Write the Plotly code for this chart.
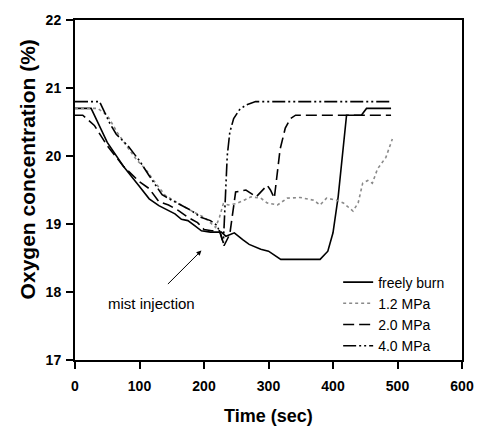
import plotly.graph_objects as go

# ---- data ----
t_free = [0, 25, 50, 75, 100, 115, 130, 145, 155, 165, 175, 185, 196, 210, 227, 234, 247, 260, 270, 288, 300, 319, 350, 380, 392, 400, 408, 416, 421, 444, 452, 490]
o_free = [20.7, 20.7, 20.2, 19.85, 19.55, 19.37, 19.27, 19.2, 19.15, 19.07, 19.05, 18.98, 18.9, 18.88, 18.88, 18.82, 18.87, 18.77, 18.7, 18.63, 18.6, 18.48, 18.48, 18.48, 18.6, 18.87, 19.4, 20.15, 20.6, 20.6, 20.7, 20.7]

t_12 = [0, 35, 50, 66, 82, 95, 110, 125, 140, 155, 170, 185, 200, 212, 218, 224, 230, 238, 250, 262, 273, 288, 298, 314, 329, 349, 370, 380, 390, 406, 416, 431, 439, 446, 454, 461, 469, 482, 492]
o_12 = [20.7, 20.7, 20.6, 20.34, 20.12, 19.95, 19.8, 19.6, 19.42, 19.33, 19.25, 19.17, 19.1, 19.0, 18.95, 19.1, 19.3, 19.28, 19.3, 19.35, 19.4, 19.38, 19.31, 19.28, 19.38, 19.39, 19.35, 19.28, 19.38, 19.35, 19.31, 19.19, 19.31, 19.6, 19.64, 19.6, 19.81, 19.98, 20.25]

t_20 = [0, 12, 30, 50, 75, 100, 115, 130, 145, 160, 175, 190, 200, 212, 224, 231, 240, 249, 265, 281, 298, 303, 309, 318, 326, 334, 342, 490]
o_20 = [20.6, 20.6, 20.45, 20.15, 19.85, 19.62, 19.52, 19.33, 19.28, 19.2, 19.1, 19.02, 18.92, 18.9, 18.9, 18.68, 18.85, 19.47, 19.5, 19.4, 19.57, 19.5, 19.38, 20.1, 20.41, 20.55, 20.6, 20.6]

t_40 = [0, 38, 54, 64, 82, 100, 115, 135, 150, 165, 180, 195, 210, 220, 226, 230, 233, 236, 240, 246, 255, 265, 280, 490]
o_40 = [20.8, 20.8, 20.48, 20.32, 20.15, 19.93, 19.71, 19.43, 19.35, 19.28, 19.2, 19.1, 19.05, 18.98, 18.85, 18.72, 19.4, 20.0, 20.35, 20.55, 20.68, 20.75, 20.8, 20.8]

x_ticks = [0, 100, 200, 300, 400, 500, 600]
y_ticks = [17, 18, 19, 20, 21, 22]

FONT = "Liberation Sans, Arial, sans-serif"

fig = go.Figure()
fig.add_trace(go.Scatter(x=t_free, y=o_free, mode="lines", name="freely burn",
                         line=dict(color="black", width=1.6)))
fig.add_trace(go.Scatter(x=t_12, y=o_12, mode="lines", name="1.2 MPa",
                         line=dict(color="#8a8a8a", width=1.6, dash="dot")))
fig.add_trace(go.Scatter(x=t_20, y=o_20, mode="lines", name="2.0 MPa",
                         line=dict(color="black", width=1.6, dash="11px,5px")))
fig.add_trace(go.Scatter(x=t_40, y=o_40, mode="lines", name="4.0 MPa",
                         line=dict(color="black", width=1.6, dash="13px,3px,2px,3px,2px,3px")))

axis_common = dict(showline=True, linecolor="black", linewidth=2, mirror=True,
                   ticks="outside", ticklen=7, tickwidth=1.5, tickcolor="black",
                   showgrid=False, zeroline=False,
                   tickfont=dict(family=FONT, size=14, color="black", weight="bold"))

fig.update_xaxes(range=[0, 600], tickvals=x_ticks, ticklabelstandoff=5, **axis_common)
fig.update_yaxes(range=[17, 22], tickvals=y_ticks, ticklabelstandoff=2, **axis_common)

fig.add_annotation(xref="paper", yref="paper", x=0.5, y=-0.165, yanchor="middle",
                   text="Time (sec)", showarrow=False,
                   font=dict(family=FONT, size=18, color="black", weight="bold"))
fig.add_annotation(xref="paper", yref="paper", x=-0.122, y=0.56, xanchor="center",
                   textangle=-90, text="Oxygen concentration (%)", showarrow=False,
                   font=dict(family=FONT, size=21, color="black", weight="bold"))

# mist injection arrow + label
fig.add_annotation(x=196, y=18.61, ax=-35, ay=35, text="", showarrow=True,
                   arrowhead=2, arrowsize=1, arrowwidth=1, arrowcolor="black")
fig.add_annotation(x=119, y=17.83, text="mist injection", showarrow=False,
                   font=dict(family=FONT, size=15, color="black"))

fig.update_layout(
    width=486, height=430,
    margin=dict(l=75, r=19, t=13, b=70),
    plot_bgcolor="white", paper_bgcolor="white",
    showlegend=True,
    legend=dict(x=0.68, y=0.275, xanchor="left", yanchor="top",
                bgcolor="rgba(0,0,0,0)", tracegroupgap=0,
                font=dict(family=FONT, size=14, color="black")),
)

# remove the browser's default 8px body margin so the figure fills the window
fig.write_html("out.html", config={"displayModeBar": False},
               post_script="document.body.style.margin='0';")
